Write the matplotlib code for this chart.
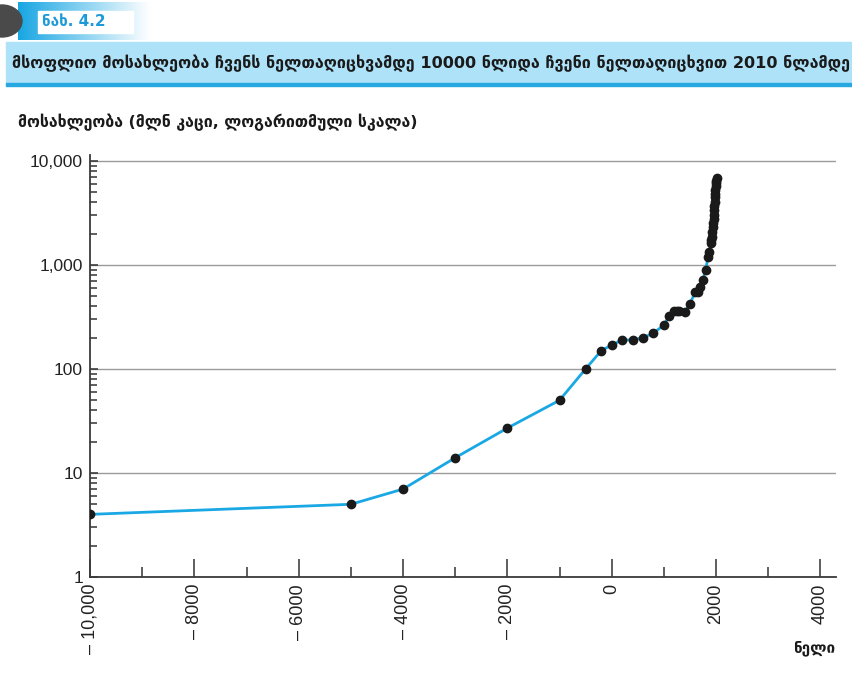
"""World population from 10,000 BC to 2010 AD (log scale), Georgian labels."""

import numpy as np
import matplotlib.pyplot as plt
from matplotlib.colors import LinearSegmentedColormap
from matplotlib.patches import Rectangle, Ellipse
from matplotlib.ticker import FixedLocator, NullFormatter

plt.rcParams['font.family'] = ['DejaVu Sans']

# Data (million people)
years = [-10000, -5000, -4000, -3000, -2000, -1000, -500, -200, 1, 200,
         400, 600, 800, 1000, 1100, 1200, 1250, 1300, 1400, 1500, 1600,
         1650, 1700, 1750, 1800, 1850, 1875, 1900, 1910, 1920, 1930, 1940,
         1950, 1955, 1960, 1965, 1970, 1975, 1980, 1985, 1990, 1995, 2000,
         2005, 2010]
population = [4, 5, 7, 14, 27, 50, 100, 150, 170, 190,
              190, 200, 220, 265, 320, 360, 360, 360, 350, 425, 545,
              545, 610, 720, 900, 1200, 1325, 1625, 1750, 1860, 2070, 2300,
              2520, 2770, 3020, 3340, 3700, 4070, 4450, 4850, 5270, 5690, 6070,
              6450, 6850]

x_ticks = [-10000, -8000, -6000, -4000, -2000, 0, 2000, 4000]
x_tick_labels = ['– 10,000', '– 8000', '– 6000', '– 4000', '– 2000', '0',
                 '2000', '4000']
y_ticks = [1, 10, 100, 1000, 10000]
y_tick_labels = ['1', '10', '100', '1,000', '10,000']

fig_label = 'ნახ. 4.2'
title = ('მსოფლიო მოსახლეობა ჩვენს ნელთაღიცხვამდე 10000 ნლიდა '
         'ჩვენი ნელთაღიცხვით 2010 ნლამდე')
y_label = 'მოსახლეობა (მლნ კაცი, ლოგარითმული სკალა)'
x_label = 'ნელი'

W, H = 853, 679
fig = plt.figure(figsize=(W / 100, H / 100), dpi=100)

# Header decorations (figure pixel coords)
deco = fig.add_axes([0, 0, 1, 1], zorder=-1)
deco.set_xlim(0, W)
deco.set_ylim(H, 0)
deco.axis('off')
grad = np.linspace(0, 1, 256).reshape(1, -1)
deco.imshow(grad, extent=[18, 150, 40, 2], aspect='auto',
            cmap=LinearSegmentedColormap.from_list('g', ['#18a6e3', '#ffffff']))
deco.add_patch(Ellipse((2, 21), 40, 32, color='#4a4a4a'))
deco.add_patch(Rectangle((38, 11), 95, 22, color='white'))
deco.text(42, 22, fig_label, color='#1f9ad8', fontsize=11, va='center',
          ha='left', fontweight='bold')
deco.add_patch(Rectangle((6, 42), W, 41, color='#ade2f8'))
deco.add_patch(Rectangle((6, 83), W, 3, color='#27a8e0'))
deco.text(12, 63, title, fontsize=11.6, va='center', ha='left',
          color='#1a1a1a', fontweight='bold')
deco.text(18, 122, y_label, fontsize=11.4, va='center', ha='left',
          color='#1a1a1a', fontweight='bold')
deco.text(835, 648, x_label, fontsize=11, va='center', ha='right',
          color='#1a1a1a', fontweight='bold')

# Main chart
ax = fig.add_axes([90 / W, 1 - 577 / H, 746 / W, 422 / H])
ax.plot(years, population, color='#1aa8e4', lw=2, zorder=3)
ax.plot(years, population, 'o', color='#1a1a1a', ms=6, zorder=4)

ax.set_yscale('log')
ax.set_xlim(-10000, 4300)
ax.set_ylim(1, 11400)

ax.set_xticks(x_ticks)
ax.set_xticklabels(x_tick_labels, rotation=90, fontsize=13,
                   family='Liberation Sans', color='#222222')
ax.xaxis.set_minor_locator(FixedLocator(list(range(-9000, 4000, 2000))))
ax.set_yticks(y_ticks)
ax.set_yticklabels(y_tick_labels, fontsize=12.5, family='Liberation Sans',
                   color='#222222')
ax.yaxis.set_minor_locator(FixedLocator(
    [m * 10 ** e for e in range(0, 4) for m in range(2, 10)]))
ax.yaxis.set_minor_formatter(NullFormatter())

ax.tick_params(axis='x', which='major', direction='in', length=13,
               width=1.1, color='#333333', pad=5)
ax.tick_params(axis='x', which='minor', direction='in', length=7,
               width=1.1, color='#333333')
ax.tick_params(axis='y', which='major', direction='in', length=6,
               width=1.1, color='#333333', pad=5)
ax.tick_params(axis='y', which='minor', direction='in', length=5,
               width=1.1, color='#333333')

ax.yaxis.grid(True, which='major', color='#9c9c9c', lw=1)
ax.set_axisbelow(True)
for side in ['top', 'right']:
    ax.spines[side].set_visible(False)
for side in ['left', 'bottom']:
    ax.spines[side].set_color('#3a3a3a')
    ax.spines[side].set_linewidth(1.3)

fig.savefig('out.png', dpi=100)
